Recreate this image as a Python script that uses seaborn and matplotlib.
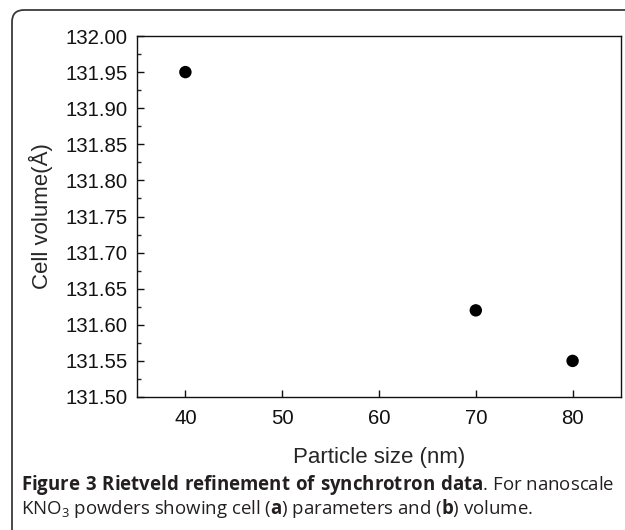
import numpy as np
import pandas as pd
import matplotlib
matplotlib.use("Agg")
import matplotlib.pyplot as plt
from matplotlib.patches import FancyBboxPatch
from matplotlib.transforms import IdentityTransform
from matplotlib.ticker import MultipleLocator
import seaborn as sns

# data
particle_size = [40, 70, 80]          # nm
cell_volume = [131.95, 131.62, 131.55]  # Angstrom^3

x_ticks = [40, 50, 60, 70, 80]
y_ticks = [131.50, 131.55, 131.60, 131.65, 131.70, 131.75, 131.80, 131.85, 131.90, 131.95, 132.00]

df = pd.DataFrame({"Particle size (nm)": particle_size, "Cell volume": cell_volume})

sns.set_style("ticks")
plt.rcParams["font.family"] = ["Liberation Sans", "DejaVu Sans"]
plt.rcParams["mathtext.fontset"] = "custom"
plt.rcParams["mathtext.rm"] = "Open Sans"
plt.rcParams["mathtext.bf"] = "Open Sans:bold"
plt.rcParams["mathtext.default"] = "regular"

W, H = 625, 530
fig = plt.figure(figsize=(W / 100, H / 100), dpi=100)
ax = fig.add_axes([137 / W, 1 - 397 / H, (621 - 137) / W, (397 - 36) / H])

sns.scatterplot(data=df, x="Particle size (nm)", y="Cell volume", ax=ax,
                color="black", s=80, edgecolor="none", zorder=3)

ax.set_xlim(35, 85)
ax.set_ylim(131.50, 132.00)
ax.set_xticks(x_ticks)
ax.set_yticks(y_ticks)
ax.set_yticklabels([f"{v:.2f}" for v in y_ticks])
ax.yaxis.set_minor_locator(MultipleLocator(0.025))
ax.tick_params(axis="both", which="major", direction="in", length=5, width=1,
               labelsize=14.7, pad=7, colors="#111111")
ax.tick_params(axis="x", which="major", pad=8.5)
ax.tick_params(axis="y", which="minor", direction="in", length=3, width=1)
ax.tick_params(axis="x", which="minor", length=0)
for sp in ax.spines.values():
    sp.set_linewidth(1.0)
    sp.set_color("#111111")

ax.set_xlabel("Particle size (nm)", fontsize=16, labelpad=14)
ax.set_ylabel("Cell volume(Å)", fontsize=16, labelpad=9)

# outer rounded frame of the figure panel
frame = FancyBboxPatch((12, -30), 680, 30 + H - 10,
                       boxstyle="round,pad=0,rounding_size=12",
                       transform=IdentityTransform(), facecolor="none",
                       edgecolor="#3a3a3a", linewidth=1.3)
fig.patches.append(frame)

cap_color = "#231f20"
fig.text(21 / W, 1 - 490 / H,
         r"$\mathbf{Figure\ 3\ Rietveld\ refinement\ of\ synchrotron\ data}$. For nanoscale",
         fontsize=13.4, color=cap_color, family="Open Sans", va="baseline")
fig.text(21 / W, 1 - 514 / H,
         r"KNO$_3$ powders showing cell ($\mathbf{a}$) parameters and ($\mathbf{b}$) volume.",
         fontsize=13.4, color=cap_color, family="Open Sans", va="baseline")

fig.savefig("out.png", dpi=100)
